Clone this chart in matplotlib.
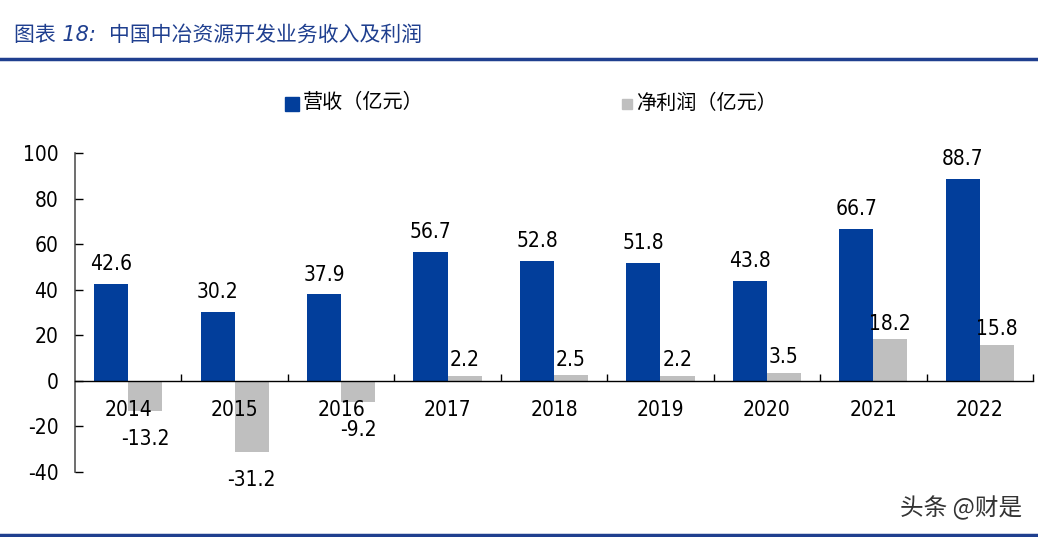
import matplotlib
matplotlib.use("Agg")
import matplotlib.pyplot as plt
from matplotlib.patches import Rectangle
from matplotlib.lines import Line2D
import numpy as np

plt.rcParams['font.family'] = ['DejaVu Sans', 'Noto Sans CJK SC']

years = ['2014', '2015', '2016', '2017', '2018', '2019', '2020', '2021', '2022']
revenue = [42.6, 30.2, 37.9, 56.7, 52.8, 51.8, 43.8, 66.7, 88.7]
profit = [-13.2, -31.2, -9.2, 2.2, 2.5, 2.2, 3.5, 18.2, 15.8]
yticks = [-40, -20, 0, 20, 40, 60, 80, 100]

BLUE = '#023e9b'
GRAY = '#bfbfbf'
TITLE_BLUE = '#1f3f8f'
W, H = 1038, 537

fig = plt.figure(figsize=(W / 100, H / 100), dpi=100)
ax = fig.add_axes([75 / W, (H - 472) / H, (1033 - 75) / W, (472 - 153) / H])
ax.set_axisbelow(False)

x = np.arange(len(years))
bw = 0.32
ax.bar(x - bw / 2, revenue, width=bw, color=BLUE, zorder=1)
ax.bar(x + bw / 2, profit, width=bw, color=GRAY, zorder=1)

num_font = dict(family='DejaVu Sans', fontstretch='condensed', fontsize=15)
for xi, v in zip(x, revenue):
    ax.annotate(f'{v:.1f}', (xi - bw / 2, v), xytext=(0, 7), textcoords='offset points',
                ha='center', va='bottom', **num_font)
for xi, v in zip(x, profit):
    if v >= 0:
        ax.annotate(f'{v:.1f}', (xi + bw / 2, v), xytext=(0, 4), textcoords='offset points',
                    ha='center', va='bottom', **num_font)
    else:
        ax.annotate(f'{v:.1f}', (xi + bw / 2, v), xytext=(0, -13), textcoords='offset points',
                    ha='center', va='top', **num_font)

ax.set_xlim(-0.5, len(years) - 0.5)
ax.set_ylim(-40, 100)
ax.set_yticks(yticks)
ax.set_yticklabels([str(t) for t in yticks], **num_font)
ax.tick_params(axis='y', direction='in', length=6, width=1, pad=12)

ax.spines['top'].set_visible(False)
ax.spines['right'].set_visible(False)
ax.spines['bottom'].set_position(('data', 0))
ax.spines['bottom'].set_linewidth(1)
ax.spines['left'].set_color('#555555')
ax.spines['left'].set_linewidth(1.2)

ax.set_xticks(x)
ax.set_xticklabels(years, **num_font)
ax.tick_params(axis='x', length=0, pad=14)
ax.set_xticks(np.arange(len(years)) + 0.5, minor=True)
ax.tick_params(axis='x', which='minor', direction='in', length=5, width=1)

# Title and rules
fig.text(14 / W, 1 - 35 / H, '图表 18:', color=TITLE_BLUE, fontsize=15, style='italic',
         va='center', ha='left', family=['DejaVu Sans', 'Noto Sans CJK SC'])
fig.text(109 / W, 1 - 35 / H, '中国中冶资源开发业务收入及利润', color=TITLE_BLUE, fontsize=15,
         va='center', ha='left', family=['Noto Sans CJK SC'])
fig.add_artist(Line2D([0, 1], [1 - 59 / H, 1 - 59 / H], color=TITLE_BLUE, lw=2.5,
                      transform=fig.transFigure))
fig.add_artist(Line2D([0, 1], [1 - 535 / H, 1 - 535 / H], color=TITLE_BLUE, lw=2.5,
                      transform=fig.transFigure))

# Legend
fig.add_artist(Rectangle((285 / W, 1 - 111 / H), 14 / W, 14 / H, color=BLUE,
                         transform=fig.transFigure))
fig.text(303 / W, 1 - 103 / H, '营收（亿元）', fontsize=14.5, va='center', ha='left',
         family=['Noto Sans CJK SC'])
fig.add_artist(Rectangle((622 / W, 1 - 109 / H), 10 / W, 10 / H, color=GRAY,
                         transform=fig.transFigure))
fig.text(636 / W, 1 - 103 / H, '净利润（亿元）', fontsize=14.5, va='center', ha='left',
         family=['Noto Sans CJK SC'])

# Watermark
fig.text(1022 / W, 1 - 508 / H, '头条 @财是', fontsize=17, color='#333333', va='center',
         ha='right', family=['Noto Sans CJK SC', 'DejaVu Sans'])

fig.savefig('out.png', dpi=100)
